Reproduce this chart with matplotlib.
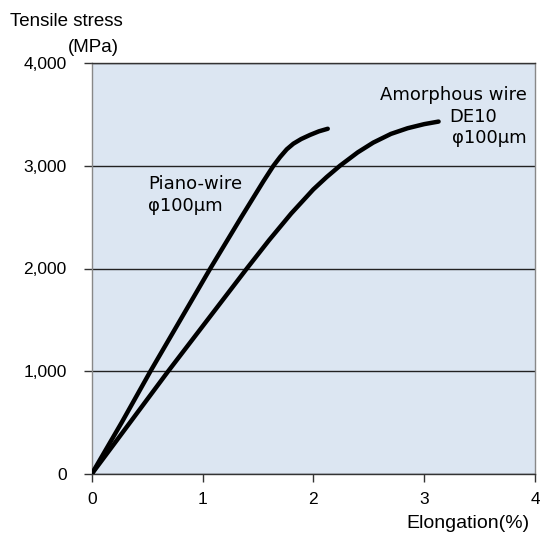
import numpy as np
import matplotlib.pyplot as plt

# values
piano_x = [0, 0.27, 0.53, 0.80, 1.07, 1.35, 1.55, 1.64, 1.70, 1.76, 1.82, 1.89, 1.97, 2.05, 2.13]
piano_y = [0, 500, 1000, 1500, 2000, 2500, 2850, 3000, 3085, 3160, 3215, 3260, 3300, 3335, 3360]

amorph_x = [0, 0.69, 1.40, 1.60, 1.80, 2.00, 2.12, 2.24, 2.40, 2.54, 2.70, 2.85, 3.00, 3.13]
amorph_y = [0, 1000, 2000, 2275, 2535, 2770, 2890, 3000, 3130, 3225, 3310, 3365, 3405, 3430]

x_ticks = [0, 1, 2, 3, 4]
y_ticks = [0, 1000, 2000, 3000, 4000]
y_tick_labels = ['0', '1,000', '2,000', '3,000', '4,000']

W, H = 540, 535
fig = plt.figure(figsize = (W / 100, H / 100), dpi = 100)
ax = fig.add_axes([91.7 / W, 1 - 474 / H, (535 - 91.7) / W, (474 - 63) / H])
ax.set_facecolor('#dce6f2')

ax.plot(piano_x, piano_y, color = 'black', lw = 3.2, solid_capstyle = 'round', solid_joinstyle = 'round', zorder = 3)
ax.plot(amorph_x, amorph_y, color = 'black', lw = 3.2, solid_capstyle = 'round', solid_joinstyle = 'round', zorder = 3)

ax.set_xlim(0, 4)
ax.set_ylim(0, 4000)
ax.set_xticks(x_ticks)
ax.set_yticks(y_ticks)
ax.set_yticklabels(y_tick_labels)
for lab in ax.get_xticklabels() + ax.get_yticklabels():
    lab.set_family('Liberation Sans')
    lab.set_fontsize(12.5)
ax.tick_params(axis = 'y', direction = 'out', length = 6, width = 1, pad = 12, color = '#333333')
ax.tick_params(axis = 'x', direction = 'out', length = 6, width = 1, pad = 7, color = '#333333')

ax.grid(True, axis = 'y', color = '#222222', lw = 1)
ax.set_axisbelow(True)
ax.spines['left'].set_color('#888888')
ax.spines['right'].set_color('#888888')
ax.spines['top'].set_color('#333333')
ax.spines['bottom'].set_color('#333333')
for s in ax.spines.values():
    s.set_linewidth(1)

fs = 13
ax.text(0.51, 2825, 'Piano-wire', fontsize = fs, ha = 'left', va = 'center', family = 'DejaVu Sans')
ax.text(0.51, 2612, 'φ100μm', fontsize = fs, ha = 'left', va = 'center', family = 'DejaVu Sans')
ax.text(3.93, 3690, 'Amorphous wire', fontsize = fs, ha = 'right', va = 'center', family = 'DejaVu Sans')
ax.text(3.23, 3470, 'DE10', fontsize = fs, ha = 'left', va = 'center', family = 'DejaVu Sans')
ax.text(3.25, 3270, 'φ100μm', fontsize = fs, ha = 'left', va = 'center', family = 'DejaVu Sans')

fig.text(10 / W, 1 - 21 / H, 'Tensile stress', fontsize = 13.5, family = 'Liberation Sans', ha = 'left', va = 'center')
fig.text(68 / W, 1 - 48 / H, '(MPa)', fontsize = 13.5, family = 'Liberation Sans', ha = 'left', va = 'center')
fig.text(530 / W, 1 - 524 / H, 'Elongation(%)', fontsize = 14, family = 'Liberation Sans', ha = 'right', va = 'center')

plt.savefig('out.png', dpi = 100)
